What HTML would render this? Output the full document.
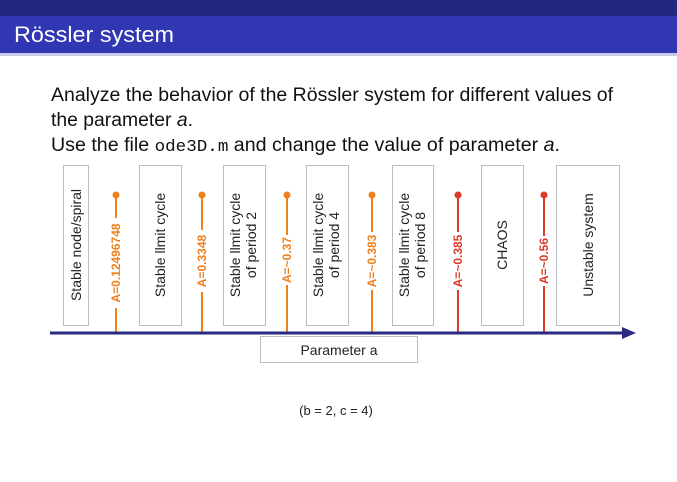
<!DOCTYPE html>
<html><head><meta charset="utf-8"><style>
body{margin:0;width:677px;height:477px;overflow:hidden;background:#fff;font-family:"Liberation Sans",sans-serif}
</style></head><body>
<svg width="677" height="477" xmlns="http://www.w3.org/2000/svg" font-family="Liberation Sans, sans-serif">
<rect x="0" y="0" width="677" height="477" fill="#fff"/>
<rect x="0" y="0" width="677" height="16" fill="#24277e"/>
<rect x="0" y="16" width="677" height="37" fill="#3137b2"/>
<rect x="0" y="53" width="677" height="3" fill="#c9cbe6"/>
<text x="14" y="42" font-size="22" fill="#fff" textLength="160" lengthAdjust="spacingAndGlyphs">Rössler system</text>
<g font-size="19" fill="#111">
<text x="51" y="101" textLength="562" lengthAdjust="spacingAndGlyphs">Analyze the behavior of the Rössler system for different values of</text>
<text x="51" y="126" textLength="142" lengthAdjust="spacingAndGlyphs">the parameter <tspan font-style="italic">a</tspan>.</text>
<text x="51" y="151" textLength="509" lengthAdjust="spacingAndGlyphs">Use the file <tspan font-family="Liberation Mono, monospace" font-size="17">ode3D.m</tspan> and change the value of parameter <tspan font-style="italic">a</tspan>.</text>
</g>
<g fill="#fff" stroke="#b8bcc4" stroke-width="1">
<rect x="63.5" y="165.5" width="25" height="160"/>
<rect x="139.5" y="165.5" width="42" height="160"/>
<rect x="223.5" y="165.5" width="42" height="160"/>
<rect x="306.5" y="165.5" width="42" height="160"/>
<rect x="392.5" y="165.5" width="41" height="160"/>
<rect x="481.5" y="165.5" width="42" height="160"/>
<rect x="556.5" y="165.5" width="63" height="160"/>
</g>
<g font-size="14" fill="#222" text-anchor="middle">
<text transform="translate(81,245) rotate(-90)">Stable node/spiral</text>
<text transform="translate(165,245) rotate(-90)">Stable llmit cycle</text>
<text transform="translate(240,245) rotate(-90)">Stable llmit cycle</text>
<text transform="translate(256,245) rotate(-90)">of period 2</text>
<text transform="translate(323,245) rotate(-90)">Stable llmit cycle</text>
<text transform="translate(339,245) rotate(-90)">of period 4</text>
<text transform="translate(409,245) rotate(-90)">Stable llmit cycle</text>
<text transform="translate(425,245) rotate(-90)">of period 8</text>
<text transform="translate(507,245) rotate(-90)">CHAOS</text>
<text transform="translate(593,245) rotate(-90)">Unstable system</text>
</g>
<g stroke-width="2">
<line x1="116" y1="195" x2="116" y2="333" stroke="#f0801e"/>
<line x1="202" y1="195" x2="202" y2="333" stroke="#f0801e"/>
<line x1="287" y1="195" x2="287" y2="333" stroke="#f0801e"/>
<line x1="372" y1="195" x2="372" y2="333" stroke="#f0801e"/>
<line x1="458" y1="195" x2="458" y2="333" stroke="#e03a2a"/>
<line x1="544" y1="195" x2="544" y2="333" stroke="#e03a2a"/>
</g>
<circle cx="116" cy="195" r="3.5" fill="#f0801e"/>
<circle cx="202" cy="195" r="3.5" fill="#f0801e"/>
<circle cx="287" cy="195" r="3.5" fill="#f0801e"/>
<circle cx="372" cy="195" r="3.5" fill="#f0801e"/>
<circle cx="458" cy="195" r="3.5" fill="#e03a2a"/>
<circle cx="544" cy="195" r="3.5" fill="#e03a2a"/>
<g font-size="12" text-anchor="middle" font-weight="bold">
<g fill="#fff"><rect x="110" y="218" width="12" height="90"/><rect x="196" y="230" width="12" height="62"/><rect x="281" y="235" width="12" height="50"/><rect x="366" y="232" width="12" height="58"/><rect x="452" y="232" width="12" height="58"/><rect x="538" y="236" width="12" height="50"/></g>
<text transform="translate(120,263) rotate(-90)" fill="#f0801e">A=0.12496748</text>
<text transform="translate(206,261) rotate(-90)" fill="#f0801e">A=0.3348</text>
<text transform="translate(291,260) rotate(-90)" fill="#f0801e">A=~0.37</text>
<text transform="translate(376,261) rotate(-90)" fill="#f0801e">A=~0.383</text>
<text transform="translate(462,261) rotate(-90)" fill="#e03a2a">A=~0.385</text>
<text transform="translate(548,261) rotate(-90)" fill="#e03a2a">A=~0.56</text>
</g>
<line x1="50" y1="333" x2="626" y2="333" stroke="#2a2a80" stroke-width="3"/>
<polygon points="622,327 636,333 622,339" fill="#2a2a80"/>
<rect x="260.5" y="336.5" width="157" height="26" fill="#fff" stroke="#b8bcc4"/>
<text x="339" y="355" font-size="14" fill="#222" text-anchor="middle">Parameter a</text>
<text x="336" y="415" font-size="13" fill="#222" text-anchor="middle">(b = 2, c = 4)</text>
</svg>
</body></html>
